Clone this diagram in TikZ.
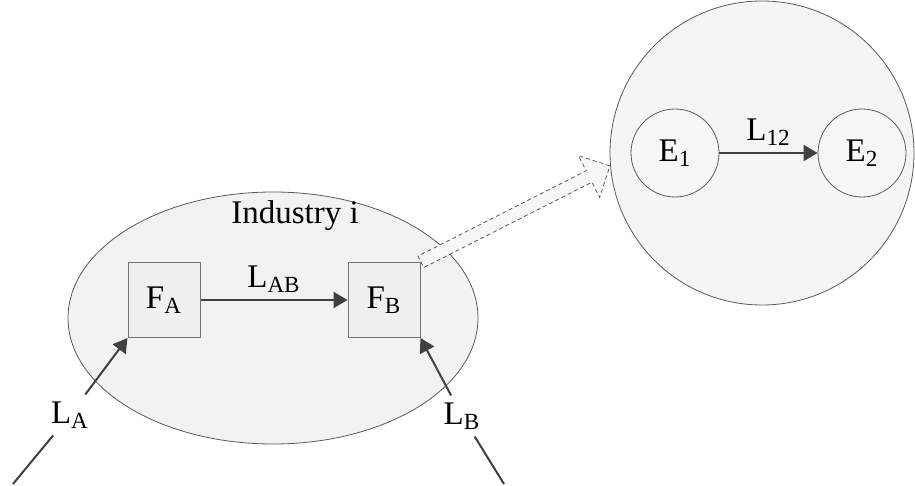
\documentclass[tikz,border=0pt]{standalone}
\usepackage{fontspec}
\setmainfont{Liberation Serif}
\usetikzlibrary{positioning,arrows.meta,shapes.geometric,shapes.arrows}

\begin{document}
\begin{tikzpicture}[
  x=0.5pt, y=-0.5pt,
  font=\fontsize{16.5}{19}\selectfont,
  ind/.style={ellipse, draw=black!65, line width=0.4pt, fill=black!5,
              minimum width=205pt, minimum height=126pt},
  eco/.style={circle, draw=black!65, line width=0.4pt, fill=black!4, minimum size=152pt},
  firm/.style={rectangle, draw=black!55, line width=0.5pt, fill=black!6,
               minimum width=36pt, minimum height=37.5pt, inner sep=2pt},
  ent/.style={circle, draw=black!65, line width=0.4pt, fill=black!3, minimum size=44pt, inner sep=1pt},
  link/.style={draw=black!75, line width=1pt, -{Triangle[length=7pt,width=8pt]}},
  plain/.style={draw=black!75, line width=1pt},
  flow/.style={single arrow, draw=black!65, dashed, dash pattern=on 2pt off 1.5pt,
               line width=0.4pt, fill=black!3, inner sep=3pt,
               single arrow head extend=8.5pt, minimum height=106pt}
]
\useasboundingbox (0,0) rectangle (915,486);

% industry i
\node[ind] (ind) at (273,318) {};
\node (indl) at (295,216) {Industry i};
\node[firm] (fa) at (164,300) {F\textsubscript{A}};
\node[firm] (fb) at (384,300) {F\textsubscript{B}};
\draw[link] (fa) -- node[above] (lab) {L\textsubscript{AB}} (fb);

% external links
\coordinate (la0) at (13,484);
\coordinate (lb0) at (504,484);
\node (la) at (70,415) {L\textsubscript{A}};
\node (lb) at (462,416) {L\textsubscript{B}};
\draw[plain] (la0) -- (la);
\draw[link] (la) -- (fa.south west);
\draw[plain] (lb0) -- (lb);
\draw[link] (lb) -- (fb.south east);

% economy
\node[eco] (eco) at (762,153) {};
\node[ent] (e1) at (675,153) {E\textsubscript{1}};
\node[ent] (e2) at (862,153) {E\textsubscript{2}};
\draw[link] (e1) -- node[above] (l12) {L\textsubscript{12}} (e2);

\node[flow, anchor=tail, rotate=26.9] (fl) at (fb.north east) {};
\end{tikzpicture}
\end{document}
